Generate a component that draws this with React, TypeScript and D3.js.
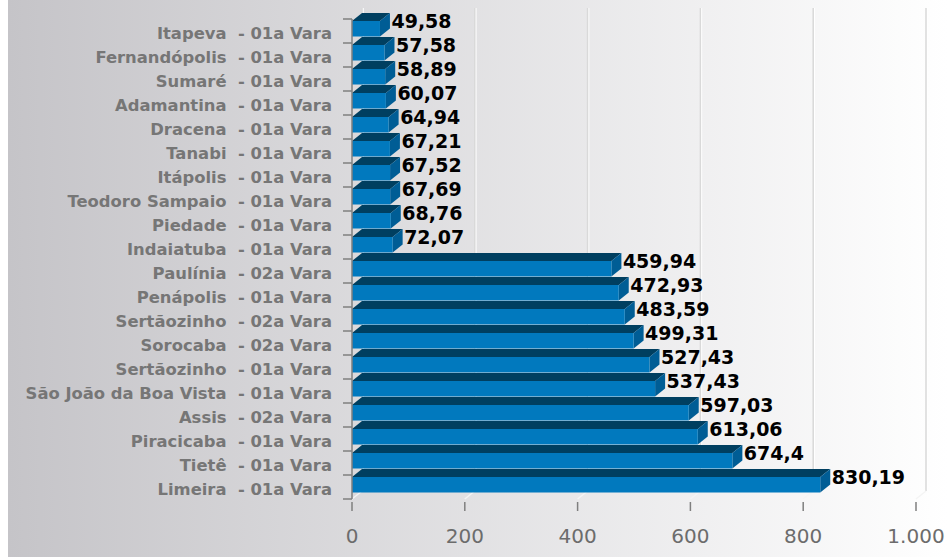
import React from 'react';
import * as d3 from 'd3';

const categories = [
  'Itapeva  - 01a Vara',
  'Fernandópolis  - 01a Vara',
  'Sumaré  - 01a Vara',
  'Adamantina  - 01a Vara',
  'Dracena  - 01a Vara',
  'Tanabi  - 01a Vara',
  'Itápolis  - 01a Vara',
  'Teodoro Sampaio  - 01a Vara',
  'Piedade  - 01a Vara',
  'Indaiatuba  - 01a Vara',
  'Paulínia  - 02a Vara',
  'Penápolis  - 01a Vara',
  'Sertãozinho  - 02a Vara',
  'Sorocaba  - 02a Vara',
  'Sertãozinho  - 01a Vara',
  'São João da Boa Vista  - 01a Vara',
  'Assis  - 02a Vara',
  'Piracicaba  - 01a Vara',
  'Tietê  - 01a Vara',
  'Limeira  - 01a Vara',
];

const values = [
  49.58, 57.58, 58.89, 60.07, 64.94, 67.21, 67.52, 67.69, 68.76, 72.07,
  459.94, 472.93, 483.59, 499.31, 527.43, 537.43, 597.03, 613.06, 674.4, 830.19,
];

const xTicks = [0, 200, 400, 600, 800, 1000];

const width = 948;
const height = 557;
// 3D depth offsets
const dx = 10;
const dy = 8;

const ptBR = d3.formatLocale({ decimal: ',', thousands: '.', grouping: [3], currency: ['R$', ''] });
const fmtTick = ptBR.format(',d');
const fmtValue = (v: number) => String(v).replace('.', ',');

const App: React.FC = () => {
  const x = d3.scaleLinear().domain([0, 1000]).range([352, 916]);
  const y = d3.scaleBand<string>().domain(categories).range([19, 499]).padding(0);
  const top = y.range()[0];
  const bottom = y.range()[1];

  const labelFont = '"DejaVu Sans", Verdana, sans-serif';

  return (
    <svg
      width={width}
      height={height}
      style={{ position: 'absolute', left: 0, top: 0, display: 'block' }}
    >
      <defs>
        <linearGradient id="bg" x1="0" y1="0" x2="1" y2="0">
          <stop offset="0" stopColor="#c5c4c8" />
          <stop offset="1" stopColor="#ffffff" />
        </linearGradient>
      </defs>
      <rect x={0} y={0} width={width} height={height} fill="#ffffff" />
      <rect x={8} y={0} width={width - 8} height={height} fill="url(#bg)" />

      {/* back wall grid */}
      <g>
        {xTicks.map(t => (
          <g key={'g' + t}>
            <line x1={x(t) + dx + 1} x2={x(t) + dx + 1} y1={top - dy - 3} y2={bottom - dy} stroke="#ffffff" strokeWidth={1.5} />
            <line x1={x(t) + dx} x2={x(t) + dx} y1={top - dy - 3} y2={bottom - dy} stroke="#d9d9d9" strokeWidth={1.5} />
            <line x1={x(t)} x2={x(t) + dx} y1={bottom} y2={bottom - dy} stroke="#f4f4f4" strokeWidth={1.5} />
          </g>
        ))}
      </g>

      {/* bars */}
      <g>
        {categories.map((c, i) => {
          const y0 = y(c) as number;
          const x0 = x(0);
          const xe = x(values[i]);
          const ft = y0 + 2;
          const fb = y0 + 17.5;
          return (
            <g key={c}>
              <polygon
                points={`${x0},${ft} ${x0 + dx},${ft - dy} ${xe + dx},${ft - dy} ${xe},${ft}`}
                fill="#003f60"
              />
              <polygon
                points={`${xe},${ft} ${xe + dx},${ft - dy} ${xe + dx},${fb - dy} ${xe},${fb}`}
                fill="#005d95"
              />
              <rect x={x0} y={ft} width={xe - x0} height={fb - ft} fill="#0179be" />
            </g>
          );
        })}
      </g>

      {/* value labels */}
      <g fontFamily={labelFont} fontWeight="bold" fontSize={19} fill="#000000">
        {categories.map((c, i) => (
          <text key={'v' + c} x={x(values[i]) + dx + 1.5} y={(y(c) as number) + 8.5}>
            {fmtValue(values[i])}
          </text>
        ))}
      </g>

      {/* y axis */}
      <g stroke="#7f7f7f" strokeWidth={1.5} fill="none">
        <line x1={x(0)} x2={x(0)} y1={top} y2={bottom} />
        {[...categories.map(c => y(c) as number), bottom].map((v, i) => (
          <line key={'yt' + i} x1={x(0) - 9} x2={x(0)} y1={v} y2={v} />
        ))}
      </g>
      <g fontFamily={labelFont} fontWeight="bold" fontSize={16.4} fill="#767676" textAnchor="end">
        {categories.map(c => (
          <text key={'l' + c} x={332} y={(y(c) as number) + 20.3} style={{ whiteSpace: 'pre' }}>
            {c}
          </text>
        ))}
      </g>

      {/* x axis */}
      <g stroke="#7f7f7f" strokeWidth={1.5}>
        {xTicks.map(t => (
          <line key={'xt' + t} x1={x(t)} x2={x(t)} y1={bottom + 3} y2={bottom + 12} />
        ))}
      </g>
      <g fontFamily={labelFont} fontSize={20} fill="#6c6c6c" textAnchor="middle">
        {xTicks.map(t => (
          <text key={'xl' + t} x={x(t)} y={543}>
            {fmtTick(t)}
          </text>
        ))}
      </g>
    </svg>
  );
};

export default App;
